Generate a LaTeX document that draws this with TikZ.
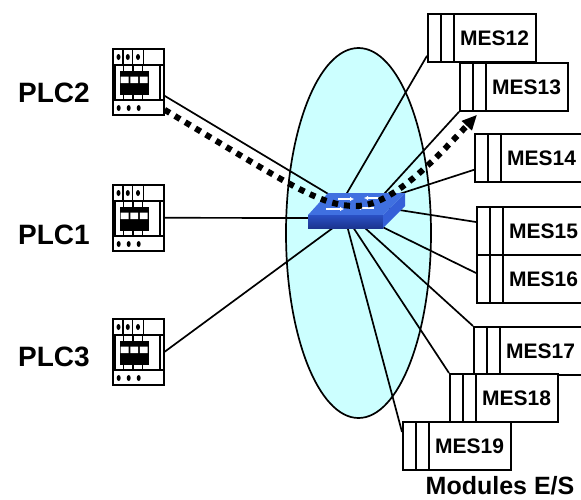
\documentclass[tikz,border=0pt]{standalone}
\usepackage{fontspec}
\setmainfont{Liberation Sans}
\usetikzlibrary{arrows.meta,calc,backgrounds}
\definecolor{netfill}{HTML}{CCFFFF}
\definecolor{swtop}{HTML}{4070E0}
\definecolor{swfront}{HTML}{2A50C4}
\definecolor{swfrontdark}{HTML}{1C3590}
\definecolor{swside}{HTML}{3560D8}

\begin{document}
\begin{tikzpicture}[x=1pt,y=-1pt,
  wire/.style={line width=1.7pt},
  modbox/.style={draw, line width=1.8pt, fill=white, minimum width=108pt,
    minimum height=48pt, inner sep=0pt, anchor=north west},
  modlabel/.style={font=\fontsize{21}{24}\selectfont\bfseries, inner sep=0pt},
  plcbox/.style={draw, line width=1.6pt, fill=white, minimum width=51pt,
    minimum height=66pt, inner sep=0pt, anchor=north west},
  plclabel/.style={font=\fontsize{28}{32}\selectfont\bfseries, inner sep=0pt},
  flow/.style={line width=6pt, dash pattern=on 6pt off 6pt,
    -{Triangle[length=15pt,width=13pt]}},
  swarrow/.style={white, line width=1.3pt, -{Latex[length=4pt,width=4.5pt]}},
]
\useasboundingbox (0,0) rectangle (581,499);
\clip (0,0) rectangle (581,499);

% I/O modules
\foreach \n/\x/\y in {12/427/13, 13/459/62, 14/474/133, 15/476/206,
                      16/476/254, 17/473/326, 18/449/373, 19/402/421} {
  \node[modbox] (m\n) at (\x,\y) {};
  \draw[line width=1.5pt] ($(m\n.north west)+(14,0)$) -- ($(m\n.south west)+(14,0)$)
                          ($(m\n.north west)+(27,0)$) -- ($(m\n.south west)+(27,0)$);
  \node[modlabel] (t\n) at ($(m\n.west)+(67.5,0)$) {MES\n};
}

% PLC units
\foreach \p/\y in {2/48, 1/184, 3/318} {
  \node[plcbox] (plc\p) at (112,\y) {};
  \begin{scope}[shift={(plc\p.north west)}]
    \draw[line width=1.2pt] (0,17) -- (51,17) (0,52) -- (51,52)
      (11,0) -- (11,17) (20.5,0) -- (20.5,17) (31.5,0) -- (31.5,17)
      (3,17) -- (3,52) (48,17) -- (48,52)
      (11.5,17) -- (11.5,52) (21,17) -- (21,52) (30.5,17) -- (30.5,52);
    \foreach \d in {6.5,15.8,26} \fill (\d,9) ellipse [x radius=2, y radius=3];
    \foreach \d in {6.7,16.7,26.7} \fill (\d,60) ellipse [x radius=2, y radius=3];
    \fill (7.5,22.5) rectangle (36.5,47);
    \fill[white] (8.5,28.5) rectangle (16.5,35) (18.3,28.5) rectangle (26,35)
                 (27.8,28.5) rectangle (35.5,35);
  \end{scope}
}

% wire ends hidden under the switch
\coordinate (e1) at (330,218);
\coordinate (e2) at (335,198);
\coordinate (e3) at (345,219);
\coordinate (e12) at (340,205);
\coordinate (e13) at (374,205);
\coordinate (e14) at (390,197);
\coordinate (e15) at (380,207);
\coordinate (e16) at (360,216);
\coordinate (e17) at (354,218);
\coordinate (e18) at (347,218);
\coordinate (e19) at (345,218);

\begin{scope}[on background layer]
  % Ethernet network
  \draw[line width=1.7pt, fill=netfill] (358.5,233) ellipse [x radius=72.5, y radius=185];
  \draw[wire] (plc1.east) -- (e1);
  \draw[wire] ($(plc2.east)+(0,14)$) -- (e2);
  \draw[wire] (plc3.east) -- (e3);
  \draw[wire] ($(m12.south west)+(0,-7)$) -- (e12);
  \draw[wire] (m13.south west) -- (e13);
  \draw[wire] ($(m14.south west)+(0,-13)$) -- (e14);
  \draw[wire] ($(m15.north west)+(0,16)$) -- (e15);
  \draw[wire] ($(m16.north west)+(0,19)$) -- (e16);
  \draw[wire] (m17.north west) -- (e17);
  \draw[wire] (m18.north west) -- (e18);
  \draw[wire] ($(m19.north west)+(0,11)$) -- (e19);
\end{scope}

% switch
\fill[swtop] (328,193) -- (405,193) -- (383,215) -- (308,215) -- cycle;
\shade[top color=swfront, bottom color=swfrontdark] (308,215) rectangle (383,228);
\fill[swside] (383,215) -- (405,193) -- (405,206) -- (383,228) -- cycle;
\draw[swarrow] (338,199) -- (354,199);
\draw[swarrow] (381,198) -- (364,198);
\draw[swarrow] (326,209) -- (344,209);
\draw[swarrow] (374,208) -- (357,208);

% data flow PLC2 -> MES13
\draw[flow] ($(plc2.east)+(0,28)$) .. controls (290,185) and (320,206) .. (356,206)
  .. controls (390,206) and (430,165) .. ($(m13.south west)+(18,3)$);

% labels
\node[plclabel] (l2) at (54,92.5) {PLC2};
\node[plclabel] (l1) at (54,235) {PLC1};
\node[plclabel] (l3) at (54,357) {PLC3};
\node[font=\fontsize{25}{30}\selectfont\bfseries, inner sep=0pt] (cap) at (500,486) {Modules E/S};
\end{tikzpicture}
\end{document}
